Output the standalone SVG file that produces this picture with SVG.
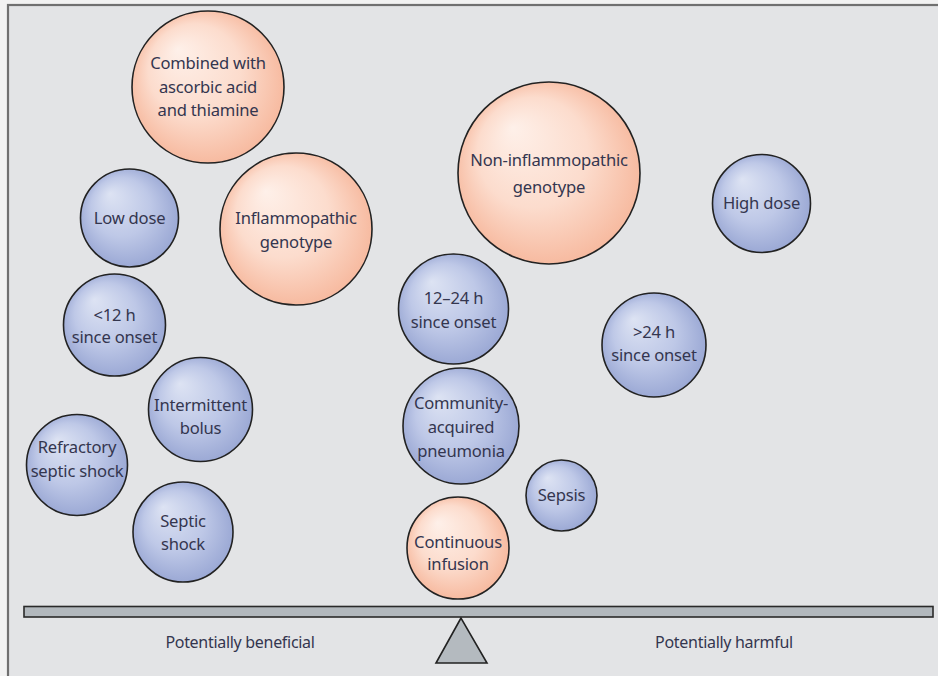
<svg xmlns="http://www.w3.org/2000/svg" width="938" height="676" viewBox="0 0 938 676">
<defs>
<radialGradient id="gO" cx="0.5" cy="0.5" r="0.55" fx="0.3" fy="0.25">
<stop offset="0" stop-color="#fef0e9"/>
<stop offset="0.55" stop-color="#fcdccd"/>
<stop offset="1" stop-color="#f6b599"/>
</radialGradient>
<radialGradient id="gB" cx="0.5" cy="0.5" r="0.55" fx="0.3" fy="0.25">
<stop offset="0" stop-color="#dde3f3"/>
<stop offset="0.55" stop-color="#bec8e7"/>
<stop offset="1" stop-color="#96a4d2"/>
</radialGradient>
<style>
.o{fill:url(#gO);stroke:#222;stroke-width:1.6}
.b{fill:url(#gB);stroke:#222;stroke-width:1.6}
.t{font-family:"Noto Sans","Open Sans",sans-serif;font-size:16.6px;fill:#34364f;text-anchor:middle;letter-spacing:-0.2px}
.l{font-family:"Noto Sans","Open Sans",sans-serif;font-size:16px;fill:#34364f;text-anchor:middle;letter-spacing:-0.3px}
</style>
</defs>
<rect x="0" y="0" width="938" height="676" fill="#f2f2f2"/>
<rect x="8" y="5" width="940" height="690" fill="#e3e4e6" stroke="#707070" stroke-width="2.2"/>

<g id="combined"><circle class="o" cx="208" cy="87" r="76"/>
<text class="t" x="208" y="69">Combined with</text><text class="t" x="208" y="93">ascorbic acid</text><text class="t" x="208" y="116">and thiamine</text></g>
<g id="lowdose"><circle class="b" cx="129.5" cy="218" r="49"/>
<text class="t" x="129.5" y="224">Low dose</text></g>
<g id="inflammopathic"><circle class="o" cx="296" cy="229" r="76"/>
<text class="t" x="296" y="224">Inflammopathic</text><text class="t" x="296" y="248">genotype</text></g>
<g id="noninflammopathic"><circle class="o" cx="549" cy="173" r="91"/>
<text class="t" x="549" y="166">Non-inflammopathic</text><text class="t" x="549" y="193">genotype</text></g>
<g id="highdose"><circle class="b" cx="761.5" cy="203.5" r="49"/>
<text class="t" x="761.5" y="209">High dose</text></g>
<g id="lt12h"><circle class="b" cx="114.5" cy="325" r="51"/>
<text class="t" x="114.5" y="321">&lt;12 h</text><text class="t" x="114.5" y="343">since onset</text></g>
<g id="h12to24"><circle class="b" cx="453.5" cy="309" r="55"/>
<text class="t" x="453.5" y="304">12–24 h</text><text class="t" x="453.5" y="328">since onset</text></g>
<g id="gt24h"><circle class="b" cx="654" cy="345" r="52"/>
<text class="t" x="654" y="338">&gt;24 h</text><text class="t" x="654" y="361">since onset</text></g>
<g id="intermittent"><circle class="b" cx="200.5" cy="409.5" r="52"/>
<text class="t" x="200.5" y="411">Intermittent</text><text class="t" x="200.5" y="434">bolus</text></g>
<g id="refractory"><circle class="b" cx="77" cy="465" r="50.5"/>
<text class="t" x="77" y="453">Refractory</text><text class="t" x="77" y="477">septic shock</text></g>
<g id="septicshock"><circle class="b" cx="183" cy="532" r="50"/>
<text class="t" x="183" y="527">Septic</text><text class="t" x="183" y="550">shock</text></g>
<g id="community"><circle class="b" cx="461" cy="426" r="58"/>
<text class="t" x="461" y="409">Community-</text><text class="t" x="461" y="433">acquired</text><text class="t" x="461" y="457">pneumonia</text></g>
<g id="sepsis"><circle class="b" cx="561.5" cy="495.5" r="35.5"/>
<text class="t" x="561.5" y="501">Sepsis</text></g>
<g id="continuous"><circle class="o" cx="458" cy="548" r="51"/>
<text class="t" x="458" y="548">Continuous</text><text class="t" x="458" y="570">infusion</text></g>

<g id="balance">
<rect x="24" y="606.5" width="909" height="10.5" fill="#b2b8bd" stroke="#2a2a2a" stroke-width="1.6"/>
<polygon points="461,618 436,663 487,663" fill="#b4babf" stroke="#222" stroke-width="1.6" stroke-linejoin="miter"/>
</g>
<g id="connectors"/>
<text class="l" x="240" y="648">Potentially beneficial</text>
<text class="l" x="724" y="648">Potentially harmful</text>
</svg>
